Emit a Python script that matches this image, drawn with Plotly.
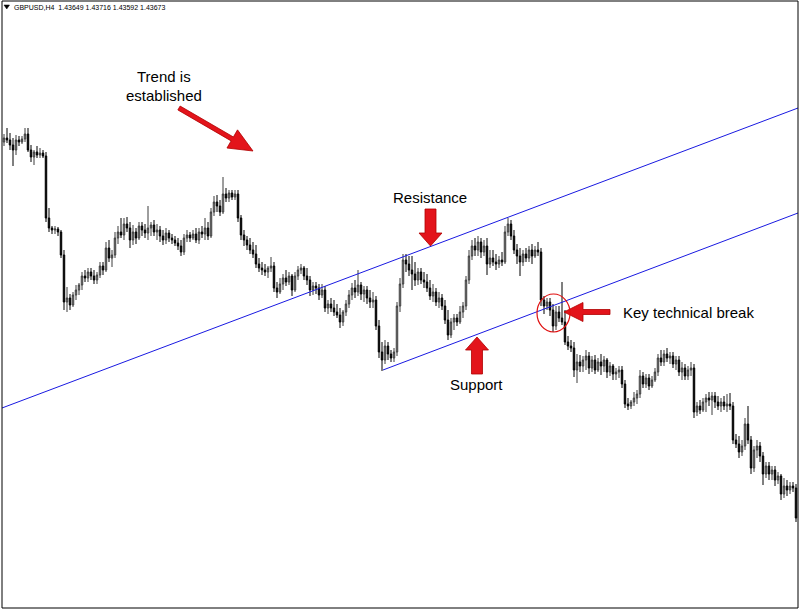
import math
import plotly.graph_objects as go

# ---------------- data (price in chart points, higher = up) ----------------
opens = [
    468, 472, 470, 465, 460, 470, 468, 471, 476, 460,
    453, 458, 455, 457, 454, 392, 382, 380, 381, 378,
    355, 308, 312, 305, 315, 320, 325, 334, 332, 338,
    334, 330, 335, 344, 340, 362, 352, 355, 372, 378,
    375, 386, 382, 370, 378, 372, 384, 380, 377, 382,
    385, 378, 380, 374, 370, 377, 372, 370, 367, 364,
    358, 372, 375, 372, 376, 370, 378, 376, 382, 374,
    398, 408, 404, 398, 416, 412, 417, 413, 416, 392,
    375, 370, 365, 360, 356, 346, 342, 340, 338, 342,
    344, 322, 318, 326, 332, 328, 334, 320, 334, 340,
    342, 334, 330, 320, 324, 322, 315, 320, 302, 306,
    302, 298, 295, 288, 298, 306, 315, 322, 318, 325,
    316, 320, 312, 308, 310, 284, 258, 250, 264, 256,
    252, 258, 304, 326, 350, 346, 340, 336, 330, 338,
    330, 328, 322, 314, 318, 308, 312, 304, 290, 275,
    288, 292, 288, 298, 304, 330, 354, 364, 360, 368,
    358, 364, 346, 352, 348, 346, 350, 348, 378, 386,
    374, 360, 354, 348, 356, 352, 360, 354, 360, 358,
    310, 304, 308, 300, 284, 298, 292, 288, 268, 264,
    262, 240, 248, 244, 250, 254, 242, 250, 240, 248,
    244, 250, 238, 244, 236, 238, 240, 226, 206, 204,
    208, 212, 216, 234, 226, 232, 224, 230, 238, 252,
    248, 256, 252, 254, 246, 250, 238, 242, 234, 240,
    242, 198, 204, 200, 208, 212, 210, 214, 208, 204,
    208, 204, 206, 204, 170, 166, 158, 164, 186, 170,
    142, 160, 164, 154, 136, 144, 136, 140, 130, 134,
    116, 124, 120, 124, 122,
]
highs = [
    476, 482, 477, 472, 475, 474, 474, 482, 482, 465,
    460, 464, 462, 460, 458, 402, 384, 384, 383, 380,
    360, 323, 316, 318, 325, 327, 338, 340, 342, 342,
    340, 338, 348, 348, 368, 370, 360, 378, 384, 392,
    392, 393, 388, 385, 382, 388, 388, 386, 404, 388,
    390, 386, 384, 380, 382, 380, 376, 374, 372, 370,
    376, 380, 378, 380, 382, 382, 384, 392, 388, 402,
    414, 415, 410, 433, 422, 420, 420, 420, 420, 395,
    380, 374, 372, 368, 365, 352, 348, 346, 344, 353,
    348, 328, 332, 336, 340, 338, 336, 338, 344, 346,
    344, 342, 334, 328, 328, 326, 326, 324, 310, 312,
    310, 306, 302, 300, 310, 320, 327, 330, 340, 328,
    324, 324, 320, 318, 314, 290, 268, 270, 268, 260,
    262, 308, 332, 356, 356, 354, 354, 348, 342, 342,
    338, 336, 330, 326, 322, 318, 316, 310, 300, 292,
    296, 296, 304, 308, 334, 360, 370, 372, 374, 372,
    370, 372, 360, 360, 356, 354, 358, 384, 392, 390,
    380, 366, 362, 360, 362, 364, 366, 364, 368, 362,
    314, 312, 312, 306, 304, 304, 328, 300, 274, 270,
    268, 256, 255, 254, 260, 258, 254, 255, 252, 256,
    254, 252, 248, 246, 242, 244, 244, 230, 212, 210,
    218, 220, 240, 238, 236, 236, 234, 242, 256, 260,
    260, 262, 258, 258, 254, 254, 248, 246, 244, 248,
    246, 208, 210, 212, 216, 218, 218, 218, 214, 212,
    214, 216, 217, 208, 176, 174, 170, 192, 204, 174,
    164, 170, 168, 158, 148, 148, 144, 144, 138, 136,
    132, 130, 128, 128, 126,
]
lows = [
    464, 467, 460, 444, 455, 464, 466, 468, 458, 448,
    445, 452, 452, 452, 388, 378, 376, 376, 374, 352,
    300, 298, 300, 303, 310, 315, 320, 328, 328, 330,
    326, 326, 332, 335, 338, 348, 343, 352, 366, 372,
    370, 378, 362, 365, 366, 370, 374, 372, 370, 374,
    374, 370, 368, 365, 366, 368, 366, 364, 360, 354,
    355, 368, 368, 370, 367, 366, 372, 370, 370, 372,
    394, 398, 394, 396, 408, 408, 410, 410, 388, 370,
    364, 360, 356, 352, 342, 338, 335, 334, 332, 338,
    318, 312, 316, 320, 324, 325, 314, 318, 330, 336,
    330, 325, 314, 315, 316, 310, 312, 298, 296, 298,
    294, 292, 282, 284, 294, 302, 310, 312, 314, 310,
    308, 306, 302, 302, 280, 252, 239, 246, 250, 248,
    248, 254, 298, 322, 338, 334, 320, 324, 325, 326,
    322, 318, 310, 308, 304, 302, 300, 286, 270, 272,
    280, 284, 286, 292, 300, 326, 350, 354, 354, 352,
    354, 335, 342, 344, 340, 342, 344, 346, 374, 370,
    356, 346, 334, 344, 348, 348, 346, 352, 354, 304,
    296, 300, 294, 278, 280, 288, 285, 265, 260, 258,
    233, 227, 238, 238, 240, 236, 238, 236, 238, 235,
    238, 232, 234, 230, 230, 232, 222, 202, 200, 201,
    204, 206, 212, 222, 222, 220, 222, 228, 234, 244,
    244, 248, 246, 242, 240, 234, 230, 230, 230, 234,
    192, 194, 196, 198, 198, 204, 195, 202, 200, 198,
    200, 198, 200, 166, 162, 152, 154, 160, 166, 136,
    138, 152, 148, 125, 132, 130, 130, 124, 126, 110,
    112, 114, 116, 118, 88,
]
closes = [
    472, 470, 465, 460, 470, 468, 471, 476, 460, 453,
    458, 455, 457, 454, 392, 382, 380, 381, 378, 355,
    308, 312, 305, 315, 320, 325, 334, 332, 338, 334,
    330, 335, 344, 340, 362, 352, 355, 372, 378, 375,
    386, 382, 370, 378, 372, 384, 380, 377, 382, 385,
    378, 380, 374, 370, 377, 372, 370, 367, 364, 358,
    372, 375, 372, 376, 370, 378, 376, 382, 374, 398,
    408, 404, 398, 416, 412, 417, 413, 416, 392, 375,
    370, 365, 360, 356, 346, 342, 340, 338, 342, 344,
    322, 318, 326, 332, 328, 334, 320, 334, 340, 342,
    334, 330, 320, 324, 322, 315, 320, 302, 306, 302,
    298, 295, 288, 298, 306, 315, 322, 318, 325, 316,
    320, 312, 308, 310, 284, 258, 250, 264, 256, 252,
    258, 304, 326, 350, 346, 340, 336, 330, 338, 330,
    328, 322, 314, 318, 308, 312, 304, 290, 275, 288,
    292, 288, 298, 304, 330, 354, 364, 360, 368, 358,
    364, 346, 352, 348, 346, 350, 348, 378, 386, 374,
    360, 354, 348, 356, 352, 360, 354, 360, 358, 310,
    304, 308, 300, 284, 298, 292, 288, 268, 264, 262,
    240, 248, 244, 250, 254, 242, 250, 240, 248, 244,
    250, 238, 244, 236, 238, 240, 226, 206, 204, 208,
    212, 216, 234, 226, 232, 224, 230, 238, 252, 248,
    256, 252, 254, 246, 250, 238, 242, 234, 240, 242,
    198, 204, 200, 208, 212, 210, 214, 208, 204, 208,
    204, 206, 204, 170, 166, 158, 164, 186, 170, 142,
    160, 164, 154, 136, 144, 136, 140, 130, 134, 116,
    124, 120, 124, 122, 92,
]
bars = list(range(len(opens)))

# channel lines (bar index, price)
upper_x = [-0.67, 264.67]
upper_y = [202, 502]
lower_x = [126.33, 264.67]
lower_y = [240, 397]

title_text = "GBPUSD,H4  1.43649 1.43716 1.43592 1.43673"

# ---------------- layout helpers ----------------
W, H = 800, 610
ML, MR, MT, MB = 2, 2, 1, 2
PW, PH = W - ML - MR, H - MT - MB


def P(px, py):
    return (px - ML) / PW, 1 - (py - MT) / PH


def arrow_path(tail, tip, shaft_w, head_len, head_w):
    dx, dy = tip[0] - tail[0], tip[1] - tail[1]
    L = math.hypot(dx, dy)
    ux, uy = dx / L, dy / L
    nx, ny = -uy, ux
    bx, by = tip[0] - ux * head_len, tip[1] - uy * head_len
    pts = [
        (tail[0] + nx * shaft_w / 2, tail[1] + ny * shaft_w / 2),
        (bx + nx * shaft_w / 2, by + ny * shaft_w / 2),
        (bx + nx * head_w / 2, by + ny * head_w / 2),
        tip,
        (bx - nx * head_w / 2, by - ny * head_w / 2),
        (bx - nx * shaft_w / 2, by - ny * shaft_w / 2),
        (tail[0] - nx * shaft_w / 2, tail[1] - ny * shaft_w / 2),
    ]
    s = ""
    for k, (x, y) in enumerate(pts):
        X, Y = P(x, y)
        s += ("M" if k == 0 else "L") + f"{X:.5f},{Y:.5f} "
    return s + "Z"


fig = go.Figure()
fig.add_trace(go.Candlestick(
    x=bars, open=opens, high=highs, low=lows, close=closes,
    increasing=dict(line=dict(color="#3c3c3c", width=1), fillcolor="#a8a8a8"),
    decreasing=dict(line=dict(color="#000000", width=1), fillcolor="#000000"),
    whiskerwidth=0, hoverinfo="skip", showlegend=False,
))
fig.add_trace(go.Scatter(x=upper_x, y=upper_y, mode="lines",
                         line=dict(color="rgb(25,25,225)", width=1),
                         hoverinfo="skip", showlegend=False))
fig.add_trace(go.Scatter(x=lower_x, y=lower_y, mode="lines",
                         line=dict(color="rgb(25,25,225)", width=1),
                         hoverinfo="skip", showlegend=False))

RED = "#e3141b"
RED_LINE = "#b00000"
shapes = []
for tail, tip, sw, hl, hw in [
    ((179, 108), (253, 151), 4.5, 24, 21),
    ((430.5, 209), (430.5, 246), 11, 13, 23),
    ((477, 374), (477, 337), 11, 13, 23),
    ((610, 312), (564, 312), 5, 19, 19),
]:
    shapes.append(dict(type="path", xref="paper", yref="paper",
                       path=arrow_path(tail, tip, sw, hl, hw),
                       fillcolor=RED, line=dict(color=RED_LINE, width=0.8)))

cx0, cy0 = P(537, 294)
cx1, cy1 = P(570, 332)
shapes.append(dict(type="circle", xref="paper", yref="paper",
                   x0=cx0, x1=cx1, y0=cy1, y1=cy0,
                   line=dict(color="#e01010", width=1.2)))

# small dropdown triangle of the title
t1, t2, t3 = P(4, 5), P(9.5, 5), P(6.75, 9)
shapes.append(dict(type="path", xref="paper", yref="paper",
                   path=f"M{t1[0]},{t1[1]} L{t2[0]},{t2[1]} L{t3[0]},{t3[1]} Z",
                   fillcolor="black", line=dict(color="black", width=0.5)))

# frame
shapes.append(dict(type="rect", xref="paper", yref="paper", x0=0, x1=1, y0=0, y1=1,
                   line=dict(color="black", width=1)))

annotations = []
FONT = "Liberation Sans, Arial, sans-serif"
for txt, px, py in [
    ("Trend is", 164, 77),
    ("established", 164, 95),
    ("Resistance", 430, 197),
    ("Support", 476, 385),
]:
    X, Y = P(px, py)
    annotations.append(dict(text=txt, x=X, y=Y, xref="paper", yref="paper",
                            xanchor="center", yanchor="middle", showarrow=False,
                            font=dict(family=FONT, size=15, color="black")))
X, Y = P(621, 312)
annotations.append(dict(text="Key technical break", x=X, y=Y, xref="paper", yref="paper",
                        xanchor="left", yanchor="middle", showarrow=False,
                        font=dict(family=FONT, size=15, color="black")))
X, Y = P(12, 7)
annotations.append(dict(text=title_text, x=X, y=Y, xref="paper", yref="paper",
                        xanchor="left", yanchor="middle", showarrow=False,
                        font=dict(family="Liberation Sans, Arial, sans-serif", size=7, color="black")))

fig.update_layout(
    width=W, height=H,
    margin=dict(l=ML, r=MR, t=MT, b=MB, pad=0),
    paper_bgcolor="white", plot_bgcolor="white",
    xaxis=dict(visible=False, range=[-2 / 3, 794 / 3], rangeslider=dict(visible=False),
               showgrid=False, zeroline=False, fixedrange=True),
    yaxis=dict(visible=False, range=[2, 609], showgrid=False, zeroline=False, fixedrange=True),
    shapes=shapes, annotations=annotations,
    showlegend=False,
)

fig.write_html(
    "out.html",
    config={"displayModeBar": False, "staticPlot": True},
    post_script="document.body.style.margin='0px';document.body.style.padding='0px';",
)
